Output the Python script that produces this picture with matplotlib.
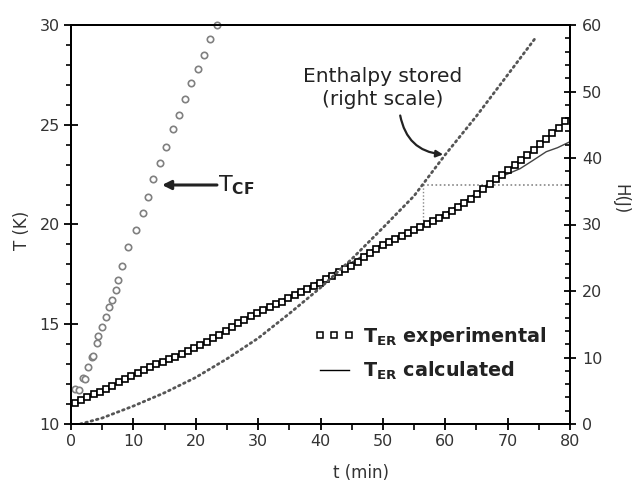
import numpy as np
import matplotlib
matplotlib.use("Agg")
import matplotlib.pyplot as plt
from matplotlib.ticker import MultipleLocator

plt.rcParams["font.family"] = ["DejaVu Sans"]
plt.rcParams["mathtext.fontset"] = "dejavusans"

# Cold finger temperature T_CF (K) versus time (min)
t_cf = [0.7, 1.3, 2.0, 2.2, 2.8, 3.3, 3.5, 4.1, 4.4, 4.9, 5.6, 6.1, 6.6, 7.2,
        7.6, 8.2, 9.2, 10.4, 11.5, 12.3, 13.1, 14.3, 15.3, 16.3, 17.3, 18.3,
        19.2, 20.35, 21.4, 22.3, 23.35]
T_cf = [11.75, 11.7, 12.3, 12.24, 12.87, 13.37, 13.4, 14.08, 14.4, 14.87, 15.35,
        15.85, 16.22, 16.7, 17.2, 17.9, 18.86, 19.7, 20.6, 21.4, 22.3, 23.1,
        23.9, 24.8, 25.5, 26.3, 27.1, 27.8, 28.5, 29.3, 30.0]

# Experimental T_ER (K), sampled about once a minute
t_exp = np.linspace(0.6, 79.2, 79)
T_exp = [11.05, 11.20, 11.33, 11.48, 11.60, 11.75, 11.90, 12.10, 12.27, 12.40,
         12.54, 12.69, 12.84, 12.99, 13.12, 13.25, 13.37, 13.50, 13.64, 13.79,
         13.95, 14.13, 14.30, 14.48, 14.67, 14.87, 15.05, 15.22, 15.39, 15.54,
         15.69, 15.84, 15.99, 16.14, 16.30, 16.48, 16.64, 16.79, 16.94, 17.09,
         17.25, 17.43, 17.60, 17.75, 17.93, 18.13, 18.37, 18.57, 18.77, 18.97,
         19.14, 19.29, 19.44, 19.59, 19.74, 19.89, 20.04, 20.19, 20.34, 20.49,
         20.67, 20.87, 21.08, 21.30, 21.55, 21.80, 22.03, 22.26, 22.50, 22.75,
         23.00, 23.25, 23.50, 23.75, 24.02, 24.29, 24.57, 24.84, 25.20]

# Calculated T_ER (K)
t_calc = [0, 5, 10, 15, 20, 25, 30, 35, 40, 45, 50, 55, 60, 64, 66.6, 69, 72,
          74, 76.2, 78, 80]
T_calc = [10.95, 11.65, 12.45, 13.2, 13.85, 14.75, 15.6, 16.4, 17.2, 18.1,
          19.05, 19.8, 20.55, 21.35, 21.95, 22.4, 22.8, 23.2, 23.65, 23.85, 24.15]

# Enthalpy stored H (J), right-hand scale
t_h = [1.5, 5, 10, 15, 20, 25, 30, 35, 40, 45, 50, 55, 60, 65, 70, 74.5]
H = [0, 0.9, 2.7, 4.7, 7.0, 9.8, 12.9, 16.6, 20.5, 24.8, 29.5, 34.3, 40.5,
     46.3, 52.5, 58.1]

# Reading guide: T_ER = 20 K at t = 56.5 min, H = 36 J
t_mark = 56.5
T_mark = 20.0
H_mark = 36.0

fig = plt.figure(figsize=(6.36, 4.84), dpi=100)
ax = fig.add_axes([71 / 636, 1 - 424 / 484, (570 - 71) / 636, (424 - 25) / 484])
ax2 = ax.twinx()

ax.set_xlim(0, 80)
ax.set_ylim(10, 30)
ax2.set_ylim(0, 60)

grey_txt = "#333333"

ax.plot(t_cf, T_cf, ls="none", marker="o", ms=4.6, mfc="white",
        mec="#808080", mew=1.2, clip_on=False, zorder=3)
ax.plot(t_calc, T_calc, color="#444444", lw=1.0, zorder=3)
ax.plot(t_exp, T_exp, ls="none", marker="s", ms=5.0, mfc="white",
        mec="black", mew=1.2, zorder=4)
ax2.plot(t_h, H, color="#555555", lw=2.0, ls=(0, (0.6, 1.4)),
         dash_capstyle="round", zorder=2)

# Guide lines to the right-hand scale
H_to_T = lambda h: 10 + h * (30 - 10) / 60
ax.plot([t_mark, t_mark], [T_mark, H_to_T(H_mark)], color="#888888", lw=1.0,
        ls=(0, (1, 1.5)), zorder=2)
ax.plot([t_mark, 80], [H_to_T(H_mark)] * 2, color="#888888", lw=1.2,
        ls=(0, (1, 1.5)), zorder=2)

for a in (ax, ax2):
    for s in a.spines.values():
        s.set_linewidth(1.4)

ax.xaxis.set_major_locator(MultipleLocator(10))
ax.xaxis.set_minor_locator(MultipleLocator(5))
ax.yaxis.set_major_locator(MultipleLocator(5))
ax.yaxis.set_minor_locator(MultipleLocator(1))
ax2.yaxis.set_major_locator(MultipleLocator(10))
ax2.yaxis.set_minor_locator(MultipleLocator(2))

ax.tick_params(axis="x", which="major", direction="inout", length=9, width=1.3,
               labelsize=11.5, labelcolor=grey_txt, pad=3)
ax.tick_params(axis="x", which="minor", direction="out", length=4, width=1.2)
ax.tick_params(axis="y", which="major", direction="inout", length=10, width=1.3,
               labelsize=11.5, labelcolor=grey_txt, pad=3)
ax.tick_params(axis="y", which="minor", direction="out", length=3.5, width=1.2)
ax2.tick_params(axis="y", which="major", direction="inout", length=9, width=1.3,
                labelsize=11.5, labelcolor=grey_txt, pad=4)
ax2.tick_params(axis="y", which="minor", direction="in", length=3.5, width=1.2)

fig.text(22 / 636, 1 - 230 / 484, "T (K)", rotation=90, ha="center",
         va="center", fontsize=12, color=grey_txt)
fig.text(361 / 636, 1 - 473 / 484, "t (min)", ha="center", va="center",
         fontsize=12, color=grey_txt)
fig.text(620 / 636, 1 - 199 / 484, "H(J)", rotation=270, ha="center",
         va="center", fontsize=12, color=grey_txt)

# Annotations
ax.text(50.0, 26.85, "Enthalpy stored\n(right scale)", ha="center",
        va="center", fontsize=14.5, color="#222222", linespacing=1.3)
ax.annotate("", xy=(60.1, 23.5), xytext=(52.7, 25.6),
            arrowprops=dict(arrowstyle="-|>", color="#222222", lw=1.6,
                            connectionstyle="arc3,rad=0.4",
                            mutation_scale=10))
ax.annotate("", xy=(14.6, 21.98), xytext=(23.4, 21.98),
            arrowprops=dict(arrowstyle="-|>", color="#222222", lw=2.2,
                            mutation_scale=13, shrinkA=0, shrinkB=0))
ax.text(23.6, 21.95, r"T$_{\mathbf{CF}}$", ha="left", va="center",
        fontsize=16, color="#222222")

h1, = ax.plot([], [], ls="none", marker="s", ms=4.6, mfc="white", mec="black",
              mew=1.1)
h2, = ax.plot([], [], color="black", lw=1.0)
leg = ax.legend([h1, h2],
                [r"T$_{\mathbf{ER}}$ experimental", r"T$_{\mathbf{ER}}$ calculated"],
                loc="upper left", bbox_to_anchor=(314 / 636, 1 - 325 / 484),
                bbox_transform=fig.transFigure, frameon=False, numpoints=3,
                handlelength=2.1, handletextpad=0.45, borderpad=0,
                borderaxespad=0, labelspacing=0.6,
                prop=dict(size=13.8, weight="bold"))
for txt in leg.get_texts():
    txt.set_color("#222222")

fig.savefig("out.png", dpi=100)
